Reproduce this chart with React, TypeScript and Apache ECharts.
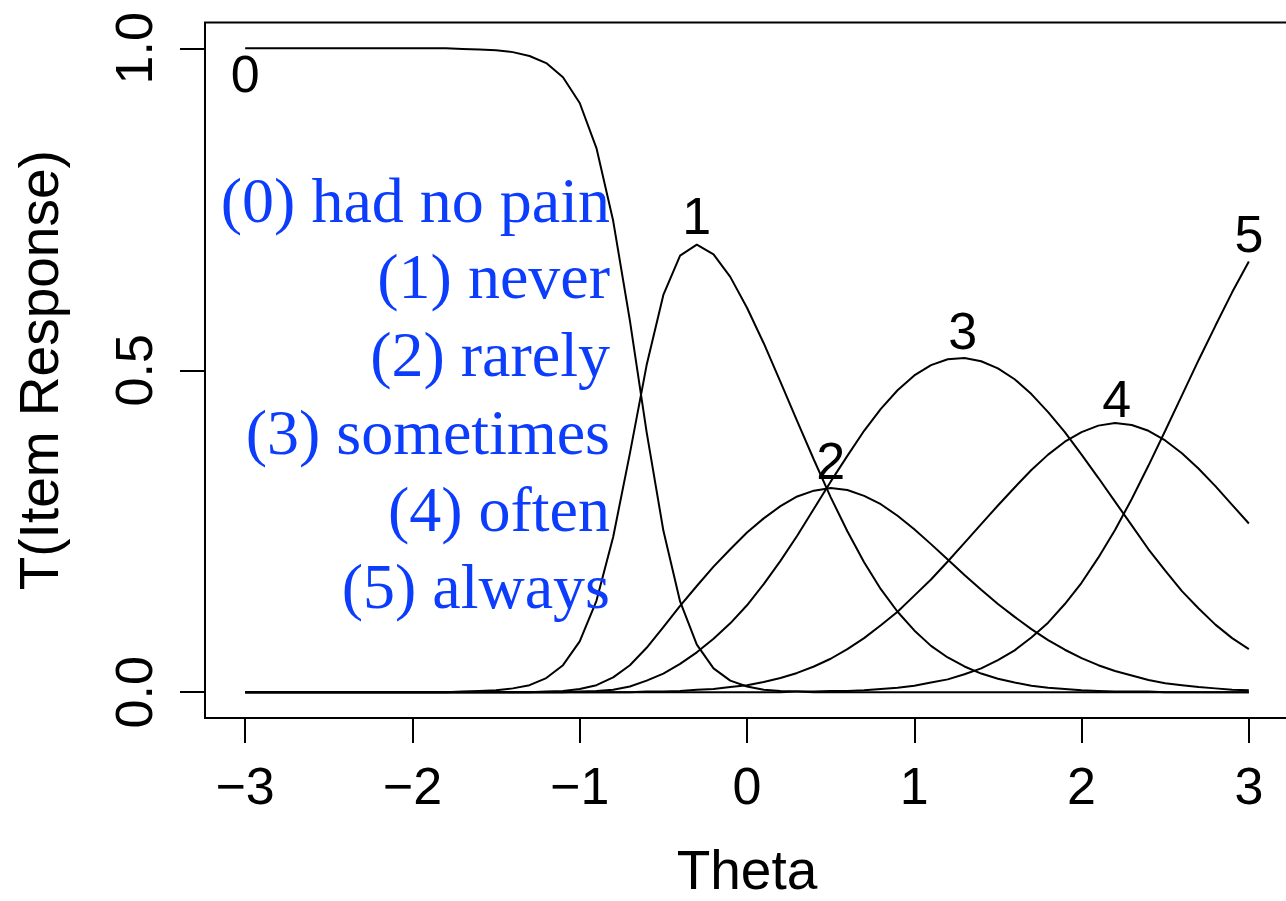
import React, { useEffect, useRef } from "react";
import * as echarts from "echarts";

// Theta grid (x values of every curve point)
const theta = [
  -3.0, -2.9, -2.8, -2.7, -2.6, -2.5, -2.4, -2.3, -2.2, -2.1,
  -2.0, -1.9, -1.8, -1.7, -1.6, -1.5, -1.4, -1.3, -1.2, -1.1,
  -1.0, -0.9, -0.8, -0.7, -0.6, -0.5, -0.4, -0.3, -0.2, -0.1,
  0.0, 0.1, 0.2, 0.3, 0.4, 0.5, 0.6, 0.7, 0.8, 0.9,
  1.0, 1.1, 1.2, 1.3, 1.4, 1.5, 1.6, 1.7, 1.8, 1.9,
  2.0, 2.1, 2.2, 2.3, 2.4, 2.5, 2.6, 2.7, 2.8, 2.9,
  3.0,
];

// Category 0: had no pain
const cat0 = [
  1, 1, 1, 1, 1, 1, 1, 1, 1, 1,
  1, 1, 1, 0.999, 0.998, 0.997, 0.994, 0.988, 0.977, 0.955,
  0.915, 0.845, 0.732, 0.577, 0.404, 0.251, 0.141, 0.074, 0.037, 0.018,
  0.009, 0.004, 0.002, 0.001, 0, 0, 0, 0, 0, 0,
  0, 0, 0, 0, 0, 0, 0, 0, 0, 0,
  0, 0, 0, 0, 0, 0, 0, 0, 0, 0,
  0,
];

// Category 1: never
const cat1 = [
  0, 0, 0, 0, 0, 0, 0, 0, 0, 0,
  0, 0, 0, 0.001, 0.002, 0.003, 0.006, 0.011, 0.022, 0.042,
  0.079, 0.142, 0.241, 0.371, 0.508, 0.617, 0.678, 0.695, 0.68, 0.645,
  0.597, 0.542, 0.482, 0.421, 0.361, 0.303, 0.25, 0.202, 0.16, 0.125,
  0.096, 0.072, 0.054, 0.04, 0.029, 0.021, 0.015, 0.01, 0.007, 0.005,
  0.003, 0.002, 0.001, 0.001, 0.001, 0, 0, 0, 0, 0,
  0,
];

// Category 2: rarely
const cat2 = [
  0, 0, 0, 0, 0, 0, 0, 0, 0, 0,
  0, 0, 0, 0, 0, 0, 0, 0, 0.001, 0.002,
  0.005, 0.011, 0.023, 0.042, 0.069, 0.101, 0.134, 0.165, 0.195, 0.222,
  0.248, 0.27, 0.289, 0.304, 0.313, 0.317, 0.314, 0.305, 0.292, 0.274,
  0.253, 0.23, 0.206, 0.182, 0.159, 0.137, 0.117, 0.098, 0.081, 0.066,
  0.053, 0.042, 0.033, 0.026, 0.019, 0.014, 0.011, 0.008, 0.006, 0.004,
  0.003,
];

// Category 3: sometimes
const cat3 = [
  0, 0, 0, 0, 0, 0, 0, 0, 0, 0,
  0, 0, 0, 0, 0, 0, 0, 0, 0, 0,
  0.001, 0.002, 0.004, 0.009, 0.018, 0.029, 0.044, 0.062, 0.083, 0.107,
  0.135, 0.168, 0.204, 0.243, 0.285, 0.327, 0.367, 0.406, 0.44, 0.469,
  0.492, 0.508, 0.517, 0.519, 0.514, 0.503, 0.486, 0.463, 0.435, 0.404,
  0.369, 0.333, 0.296, 0.259, 0.222, 0.189, 0.157, 0.13, 0.105, 0.084,
  0.067,
];

// Category 4: often
const cat4 = [
  0, 0, 0, 0, 0, 0, 0, 0, 0, 0,
  0, 0, 0, 0, 0, 0, 0, 0, 0, 0,
  0, 0, 0, 0, 0.001, 0.001, 0.002, 0.004, 0.005, 0.008,
  0.011, 0.016, 0.022, 0.03, 0.04, 0.052, 0.067, 0.084, 0.104, 0.125,
  0.15, 0.175, 0.203, 0.232, 0.261, 0.29, 0.318, 0.345, 0.369, 0.389,
  0.404, 0.414, 0.418, 0.415, 0.406, 0.391, 0.371, 0.347, 0.32, 0.291,
  0.262,
];

// Category 5: always
const cat5 = [
  0, 0, 0, 0, 0, 0, 0, 0, 0, 0,
  0, 0, 0, 0, 0, 0, 0, 0, 0, 0,
  0, 0, 0, 0, 0, 0, 0, 0, 0, 0,
  0, 0, 0, 0.001, 0.001, 0.002, 0.002, 0.003, 0.005, 0.007,
  0.01, 0.015, 0.02, 0.028, 0.037, 0.05, 0.065, 0.085, 0.108, 0.137,
  0.17, 0.209, 0.252, 0.3, 0.352, 0.406, 0.461, 0.516, 0.569, 0.621,
  0.669,
];

// Curve labels placed at data coordinates
const curveLabels = ["0", "1", "2", "3", "4", "5"];
const curveLabelTheta = [-3.0, -0.3, 0.5, 1.29, 2.21, 3.0];
const curveLabelValue = [0.96, 0.739, 0.359, 0.561, 0.455, 0.711];

// Axis ticks
const xTicks = [-3, -2, -1, 0, 1, 2, 3];
const yTicks = [0, 0.5, 1];

// Category legend text
const legendLines = [
  "(0) had no pain",
  "(1) never",
  "(2) rarely",
  "(3) sometimes",
  "(4) often",
  "(5) always",
];

export default function App() {
  const ref = useRef<HTMLDivElement>(null);

  useEffect(() => {
    if (!ref.current) return;
    const chart = echarts.init(ref.current, null, { renderer: "svg" });
    const curves = [cat0, cat1, cat2, cat3, cat4, cat5];
    const sans = '"Liberation Sans", Arial, Helvetica, sans-serif';
    const serif = '"Liberation Serif", "DejaVu Serif", serif';
    const legendY = [200, 276, 354, 432, 509, 586];

    chart.setOption({
      animation: false,
      backgroundColor: "#ffffff",
      grid: {
        left: 205,
        top: 22.5,
        width: 1084,
        height: 695.5,
        show: true,
        borderColor: "#000",
        borderWidth: 2,
        backgroundColor: "transparent",
        containLabel: false,
        outerBoundsMode: "none",
      },
      xAxis: {
        type: "value",
        min: -3.24,
        max: 3.24,
        name: "Theta",
        nameLocation: "middle",
        nameGap: 128,
        nameTextStyle: { fontSize: 55, lineHeight: 48, color: "#000", fontFamily: sans },
        axisLine: { show: false, onZero: false },
        axisTick: {
          show: true,
          length: 25,
          lineStyle: { color: "#000", width: 2 },
          customValues: xTicks,
        },
        axisLabel: {
          customValues: xTicks,
          margin: 42,
          fontSize: 52,
          color: "#000",
          fontFamily: sans,
          formatter: (v: number) => (v < 0 ? "\u2212" + Math.abs(v) : String(v)),
        },
        splitLine: { show: false },
      },
      yAxis: {
        type: "value",
        min: -0.04,
        max: 1.04,
        name: "T(Item Response)",
        nameLocation: "middle",
        nameGap: 139,
        nameTextStyle: { fontSize: 55, color: "#000", fontFamily: sans },
        axisLine: { show: false, onZero: false },
        axisTick: {
          show: true,
          length: 25,
          lineStyle: { color: "#000", width: 2 },
          customValues: yTicks,
        },
        axisLabel: {
          customValues: yTicks,
          rotate: 90,
          margin: 45,
          fontSize: 52,
          color: "#000",
          fontFamily: sans,
          formatter: (v: number) => v.toFixed(1),
        },
        splitLine: { show: false },
      },
      series: [
        ...curves.map((c, k) => ({
          type: "line",
          name: "cat" + k,
          data: theta.map((t, i) => [t, c[i]]),
          showSymbol: false,
          symbol: "none",
          smooth: false,
          silent: true,
          lineStyle: { color: "#000", width: 2 },
          z: 2,
        })),
        {
          type: "scatter",
          data: curveLabels.map((l, i) => [curveLabelTheta[i], curveLabelValue[i], l]),
          symbolSize: 2,
          itemStyle: { color: "rgba(0,0,0,0)" },
          silent: true,
          label: {
            show: true,
            position: "inside",
            formatter: (p: any) => p.value[2],
            fontSize: 52,
            color: "#000",
            opacity: 1,
            fontFamily: sans,
          },
          z: 5,
        },
      ],
      graphic: legendLines.map((t, i) => ({
        type: "text",
        x: 610,
        y: legendY[i],
        z: 10,
        style: {
          text: t,
          fill: "#0d3dfc",
          font: '64px "Liberation Serif", "DejaVu Serif", serif',
          fontFamily: serif,
          fontSize: 64,
          align: "right",
          verticalAlign: "middle",
        },
      })),
    });

    return () => {
      chart.dispose();
    };
  }, []);

  return (
    <div
      ref={ref}
      style={{ position: "absolute", left: 0, top: 0, width: 1286, height: 901 }}
    />
  );
}
